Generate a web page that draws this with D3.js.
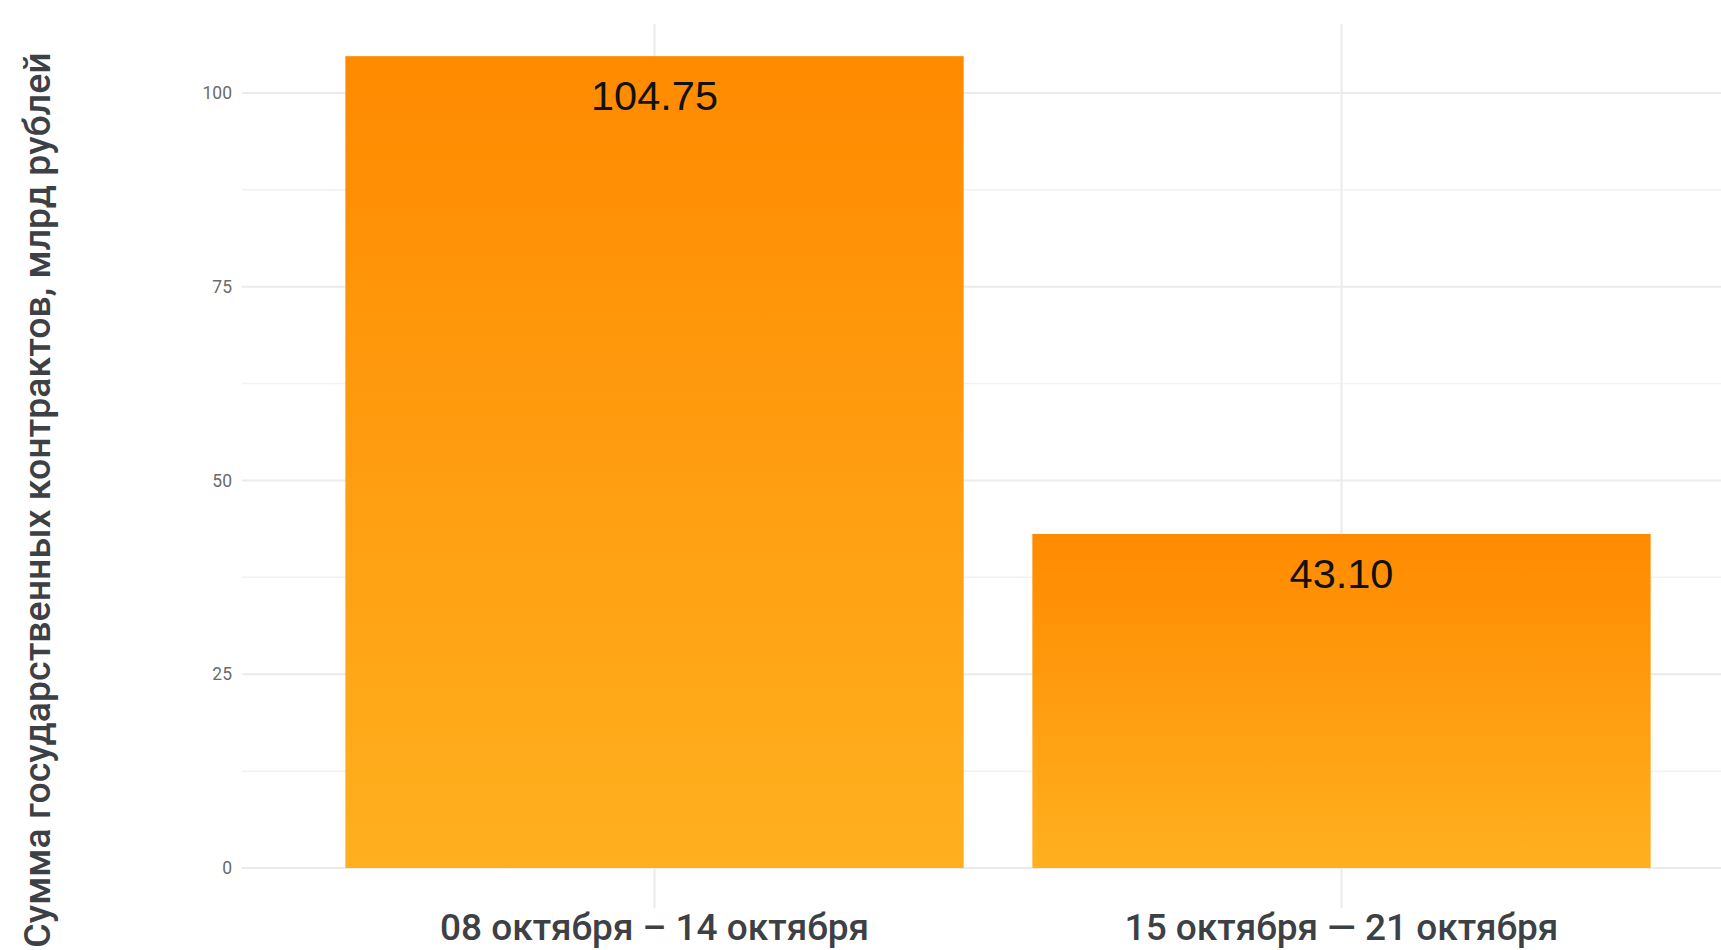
<html>
<head>
<meta charset="utf-8">
<script src="https://cdn.jsdelivr.net/npm/d3@7"></script>
<style>
  body{margin:0; background:#fff;}
  svg{display:block;}
</style>
</head>
<body>
<div id="chart"></div>
<script>
// data
var weeks = ['08 октября – 14 октября', '15 октября — 21 октября'];
var amounts = [104.75, 43.10];
var majorTicks = [0, 25, 50, 75, 100];
var minorTicks = [12.5, 37.5, 62.5, 87.5];
var yTitle = 'Сумма государственных контрактов, млрд рублей';

var W = 1721, H = 950;
var svg = d3.select('#chart').append('svg')
  .attr('width', W)
  .attr('height', H);

var defs = svg.append('defs');
var grad = defs.append('linearGradient')
  .attr('id', 'barGrad')
  .attr('x1', 0).attr('y1', 0).attr('x2', 0).attr('y2', 1);
grad.append('stop').attr('offset', '0%').attr('stop-color', '#ff8a00');
grad.append('stop').attr('offset', '100%').attr('stop-color', '#ffb01f');

var x = d3.scaleBand()
  .domain(weeks)
  .range([311, 1685])
  .paddingInner(0.1)
  .paddingOuter(0.05);

var y = d3.scaleLinear()
  .domain([-5.16, 108.9])
  .range([908, 24]);

var gridLeft = 242;

// minor + major horizontal grid
svg.append('g').selectAll('line.minor')
  .data(minorTicks)
  .enter().append('line')
    .attr('class', 'minor')
    .attr('x1', gridLeft).attr('x2', W)
    .attr('y1', function(d){ return y(d) })
    .attr('y2', function(d){ return y(d) })
    .attr('stroke', '#f2f2f2')
    .attr('stroke-width', 1.5);

svg.append('g').selectAll('line.major')
  .data(majorTicks)
  .enter().append('line')
    .attr('class', 'major')
    .attr('x1', gridLeft).attr('x2', W)
    .attr('y1', function(d){ return y(d) })
    .attr('y2', function(d){ return y(d) })
    .attr('stroke', '#ebebeb')
    .attr('stroke-width', 2);

// vertical grid at category centres
svg.append('g').selectAll('line.vgrid')
  .data(weeks)
  .enter().append('line')
    .attr('class', 'vgrid')
    .attr('x1', function(d){ return x(d) + x.bandwidth()/2 })
    .attr('x2', function(d){ return x(d) + x.bandwidth()/2 })
    .attr('y1', y.range()[1])
    .attr('y2', y.range()[0])
    .attr('stroke', '#ebebeb')
    .attr('stroke-width', 2);

// y tick labels
svg.append('g').selectAll('text.ytick')
  .data(majorTicks)
  .enter().append('text')
    .attr('class', 'ytick')
    .attr('x', 232)
    .attr('y', function(d){ return y(d) })
    .attr('dy', '0.35em')
    .attr('text-anchor', 'end')
    .attr('font-family', 'Roboto, sans-serif')
    .attr('font-size', 17.5)
    .attr('fill', '#6b6b6b')
    .text(function(d){ return d });

// bars
svg.append('g').selectAll('rect.bar')
  .data(amounts)
  .enter().append('rect')
    .attr('class', 'bar')
    .attr('x', function(d, i){ return x(weeks[i]) })
    .attr('width', x.bandwidth())
    .attr('y', function(d){ return y(d) })
    .attr('height', function(d){ return y(0) - y(d) })
    .attr('fill', 'url(#barGrad)');

// value labels inside bar tops
svg.append('g').selectAll('text.val')
  .data(amounts)
  .enter().append('text')
    .attr('class', 'val')
    .attr('x', function(d, i){ return x(weeks[i]) + x.bandwidth()/2 })
    .attr('y', function(d){ return y(d) + 54 })
    .attr('text-anchor', 'middle')
    .attr('font-family', '"Liberation Sans", Arial, sans-serif')
    .attr('font-size', 41.5)
    .attr('fill', '#111')
    .text(function(d){ return d.toFixed(2) });

// x category labels
svg.append('g').selectAll('text.xlab')
  .data(weeks)
  .enter().append('text')
    .attr('class', 'xlab')
    .attr('x', function(d){ return x(d) + x.bandwidth()/2 })
    .attr('y', 940)
    .attr('text-anchor', 'middle')
    .attr('font-family', 'Roboto, sans-serif')
    .attr('font-weight', 500)
    .attr('font-size', 37)
    .attr('fill', '#3d4045')
    .text(function(d){ return d });

// y axis title
svg.append('text')
  .attr('transform', 'translate(50,500) rotate(-90)')
  .attr('text-anchor', 'middle')
  .attr('font-family', 'Roboto, sans-serif')
  .attr('font-weight', 500)
  .attr('font-size', 37.5)
  .attr('fill', '#3d4045')
  .text(yTitle);
</script>
</body>
</html>
